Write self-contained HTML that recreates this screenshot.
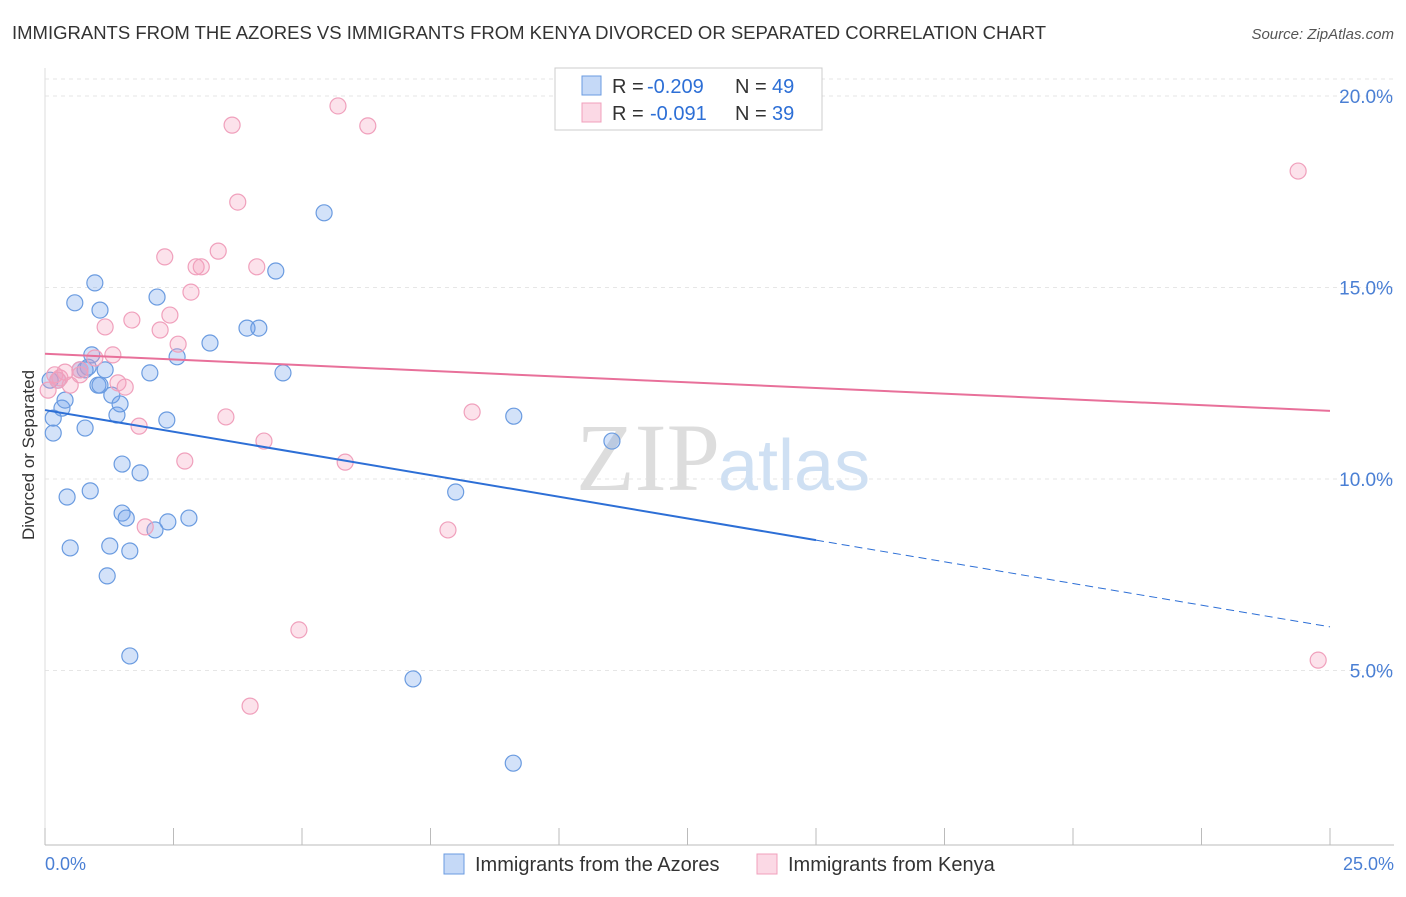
<!DOCTYPE html>
<html><head><meta charset="utf-8"><style>
body{margin:0;background:#fff;font-family:"Liberation Sans",sans-serif;}
svg text{font-family:"Liberation Sans",sans-serif;}
</style></head><body>
<svg id="chart" width="1406" height="892" xmlns="http://www.w3.org/2000/svg">
<text x="12" y="39" font-size="18.5" fill="#333">IMMIGRANTS FROM THE AZORES VS IMMIGRANTS FROM KENYA DIVORCED OR SEPARATED CORRELATION CHART</text>
<text x="1394" y="39" font-size="15" fill="#555" font-style="italic" text-anchor="end">Source: ZipAtlas.com</text>
<text x="34" y="455" font-size="17" fill="#333" text-anchor="middle" transform="rotate(-90 34 455)">Divorced or Separated</text>
<g id="grid"></g>
<g id="xticks"></g>
<text x="720" y="490" font-size="96" fill="#ddd" text-anchor="end" style="font-family:'Liberation Serif',serif">ZIP</text>
<text x="718" y="490" font-size="72" fill="#cfe0f3">atlas</text>
<g id="pts"></g>
<g id="lines"></g>
<g>
<rect x="555" y="68" width="267" height="62" fill="#fff" stroke="#ccc"/>
<rect x="582" y="76" width="19" height="19" fill="rgba(110,160,235,0.4)" stroke="#6a9be0"/>
<text x="612" y="93" font-size="20" fill="#333">R =</text>
<text x="647" y="93" font-size="20" fill="#2d6fd6">-0.209</text>
<text x="735" y="93" font-size="20" fill="#333">N =</text>
<text x="772" y="93" font-size="20" fill="#2d6fd6">49</text>
<rect x="582" y="103" width="19" height="19" fill="rgba(245,160,190,0.4)" stroke="#f0a0bc"/>
<text x="612" y="120" font-size="20" fill="#333">R =</text>
<text x="650" y="120" font-size="20" fill="#2d6fd6">-0.091</text>
<text x="735" y="120" font-size="20" fill="#333">N =</text>
<text x="772" y="120" font-size="20" fill="#2d6fd6">39</text>
</g>
<text x="45" y="870" font-size="18" fill="#4a7fd4">0.0%</text>
<text x="1394" y="870" font-size="18" fill="#4a7fd4" text-anchor="end">25.0%</text>
<rect x="444" y="854" width="20" height="20" fill="rgba(110,160,235,0.4)" stroke="#6a9be0"/>
<text x="475" y="871" font-size="20" fill="#333">Immigrants from the Azores</text>
<rect x="757" y="854" width="20" height="20" fill="rgba(245,160,190,0.4)" stroke="#f0a0bc"/>
<text x="788" y="871" font-size="20" fill="#333">Immigrants from Kenya</text>
</svg>
<script>
const yTicks=[5,10,15,20];
const yTickLabels=["5.0%","10.0%","15.0%","20.0%"];
const blueX=[0.10,0.16,0.16,0.25,0.33,0.39,0.43,0.49,0.58,0.68,0.78,0.84,0.88,0.91,0.97,1.03,1.07,1.17,1.21,1.26,1.30,1.40,1.46,1.50,1.50,1.58,1.65,1.65,1.85,2.04,2.14,2.18,2.37,2.39,2.57,2.80,3.21,3.93,4.16,4.49,4.63,5.43,7.16,7.99,9.12,9.11,11.03,0.78,1.07];
const blueY=[12.58,11.59,11.20,12.58,11.85,12.06,9.53,8.20,14.60,12.85,11.33,12.92,9.69,13.24,15.12,12.45,14.41,12.85,7.47,8.25,12.19,11.67,11.96,10.39,9.11,8.98,8.12,5.38,10.16,12.77,8.67,14.75,11.54,8.88,13.19,8.98,13.55,13.94,13.94,15.43,12.77,16.95,4.78,9.66,11.64,2.58,10.99,12.85,12.45];
const pinkX=[0.06,0.19,0.29,0.39,0.49,0.68,0.97,1.17,1.32,1.42,1.56,1.69,1.83,1.95,2.24,2.33,2.43,2.59,2.72,2.84,2.94,3.04,3.37,3.52,3.64,3.75,3.99,4.12,4.26,4.94,5.70,5.84,6.28,7.84,8.31,24.38,24.77,0.68,0.25];
const pinkY=[12.32,12.72,12.64,12.79,12.45,12.72,13.16,13.97,13.24,12.51,12.40,14.15,11.38,8.75,13.89,15.80,14.28,13.52,10.47,14.88,15.54,15.54,15.95,11.62,19.24,17.23,4.07,15.54,10.99,6.06,19.74,10.44,19.22,8.67,11.75,18.04,5.27,12.85,12.58];
const blueTrend=[11.8,6.14];
const pinkTrend=[13.27,11.78];
const blueSolidEnd=15;
const NS="http://www.w3.org/2000/svg";
const X=v=>45+v*51.4, Y=v=>862-v*38.3;
function mk(tag,attrs,parent){const e=document.createElementNS(NS,tag);for(const k in attrs)e.setAttribute(k,attrs[k]);document.getElementById(parent).appendChild(e);return e;}
yTicks.forEach((t,i)=>{
 const l=mk('line',{x1:45,x2:1394,y1:Y(t),y2:Y(t),stroke:'#e6e6e6','stroke-dasharray':'4,4'},'grid');
 
 
 const tx=mk('text',{x:1393,y:Y(t)+7,'font-size':19,fill:'#4a7fd4','text-anchor':'end'},'grid');
 tx.textContent=yTickLabels[i];
 
 
});
const tl=mk('line',{x1:45,x2:1394,y1:79,y2:79,stroke:'#e6e6e6','stroke-dasharray':'4,4'},'grid');


const ax=mk('line',{x1:45,x2:1394,y1:845,y2:845,stroke:'#bbb'},'xticks');


const ay=mk('line',{x1:45,x2:45,y1:68,y2:845,stroke:'#ddd'},'xticks');


for(let i=0;i<=10;i++){const t=mk('line',{x1:X(i*2.5),x2:X(i*2.5),y1:828,y2:845,stroke:'#bbb'},'xticks');
 
 }
function pts(xs,ys,fill,stroke,name){xs.forEach((x,i)=>{const c=mk('circle',{cx:X(x),cy:Y(ys[i]),r:8,fill:fill,stroke:stroke,'stroke-width':1.2},'pts');
 
 });}
pts(blueX,blueY,'rgba(110,160,235,0.3)','#6a9be0','point-azores');
pts(pinkX,pinkY,'rgba(245,160,190,0.3)','#f0a0bc','point-kenya');
const f=(tr,x)=>tr[0]+(tr[1]-tr[0])*x/25;
const b1=mk('line',{x1:X(0),y1:Y(blueTrend[0]),x2:X(blueSolidEnd),y2:Y(f(blueTrend,blueSolidEnd)),stroke:'#2d6fd6','stroke-width':2},'lines');


const b2=mk('line',{x1:X(blueSolidEnd),y1:Y(f(blueTrend,blueSolidEnd)),x2:X(25),y2:Y(blueTrend[1]),stroke:'#2d6fd6','stroke-width':1,'stroke-dasharray':'8,5'},'lines');


const p1=mk('line',{x1:X(0),y1:Y(pinkTrend[0]),x2:X(25),y2:Y(pinkTrend[1]),stroke:'#e8709a','stroke-width':2},'lines');


</script>
</body></html>
